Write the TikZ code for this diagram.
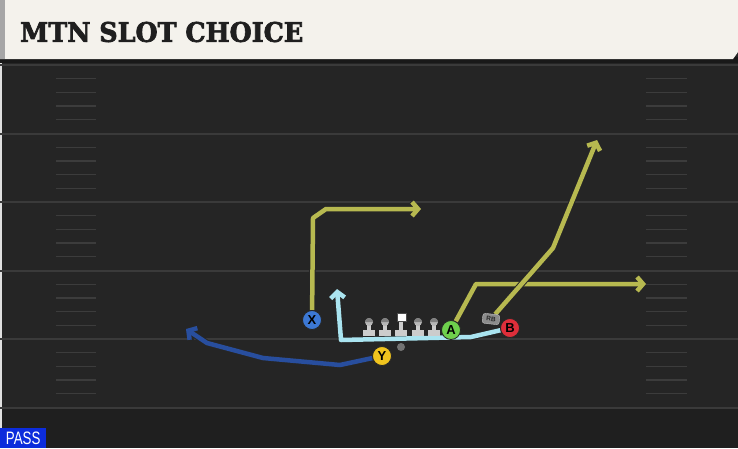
\documentclass[tikz,border=0pt]{standalone}
\usepackage{fontspec}
\newfontfamily\titlefont[FakeBold=2.5]{DejaVu Serif}
\newfontfamily\labelfont{Liberation Sans}
\usetikzlibrary{arrows.meta}

\definecolor{field}{RGB}{37,37,37}
\definecolor{endzone}{RGB}{31,31,31}
\definecolor{yardline}{RGB}{58,58,58}
\definecolor{hashmark}{RGB}{60,60,60}
\definecolor{header}{RGB}{244,242,236}
\definecolor{olive}{RGB}{183,185,80}
\definecolor{skyline}{RGB}{170,228,240}
\definecolor{navy}{RGB}{40,78,158}
\definecolor{xblue}{RGB}{60,120,212}
\definecolor{ygold}{RGB}{240,196,30}
\definecolor{agreen}{RGB}{110,208,76}
\definecolor{bred}{RGB}{222,46,58}
\definecolor{passblue}{RGB}{12,44,220}

\pgfdeclarelayer{turf}
\pgfdeclarelayer{routes}
\pgfsetlayers{turf,routes,main}

\tikzset{
  player/.style={circle, draw=black!85, line width=0.8pt, minimum size=19pt,
    inner sep=0pt, font=\labelfont\bfseries\fontsize{13}{13}\selectfont},
  route/.style={line width=4.5pt, line join=round,
    preaction={draw=black!85, line width=6.5pt},
    arrows={-Straight Barb[length=6pt, width=14pt]}},
  lineman/.style={fill=black!20},
}

\begin{document}
\begin{tikzpicture}[x=1pt, y=-1pt]
\useasboundingbox (0,0) rectangle (738,448);

\begin{pgfonlayer}{turf}
\fill[field] (0,0) rectangle (738,408);
\fill[endzone] (0,408) rectangle (738,448);
\fill[black!12] (0,62) rectangle (2,448);
\foreach \yd in {65,133.5,202,270.5,339,407.5}
  \draw[yardline, line width=2pt] (0,\yd) -- (738,\yd);
\foreach \yd in {65,133.5,202,270.5,339}
  \foreach \k in {1,2,3,4} {
    \draw[hashmark, line width=1.3pt] (56,\yd+13.7*\k) -- (96,\yd+13.7*\k);
    \draw[hashmark, line width=1.3pt] (646,\yd+13.7*\k) -- (687,\yd+13.7*\k);
  }
\fill[black!90] (0,57) rectangle (738,63);
\fill[header] (0,0) -- (738,0) -- (738,52) -- (733,59) -- (0,59) -- cycle;
\fill[black!35] (0,0) rectangle (5,59);
\end{pgfonlayer}

\node[anchor=west, text=black!88, inner sep=0pt, font=\titlefont\bfseries]
  (title) at (20,32) {\resizebox{283pt}{20pt}{MTN SLOT CHOICE}};

\node[player, fill=xblue] (X) at (312,320) {X};
\node[player, fill=ygold] (Y) at (382,356) {Y};
\node[player, fill=agreen] (A) at (451,330) {A};
\node[player, fill=bred] (B) at (510,328) {B};
\node[rounded corners=2.5pt, fill=black!45, draw=black!25, rotate=-6, minimum width=17pt,
  minimum height=10pt, inner sep=0pt, text=black!85,
  font=\labelfont\bfseries\fontsize{6.5}{6.5}\selectfont] (RB) at (491,319) {RB};
\node[circle, fill=black!55, minimum size=8pt, inner sep=0pt] (QB) at (401,347) {};

\foreach \lx in {369,385,418,434} {
  \fill[lineman] (\lx-6,330) rectangle (\lx+6,335.5);
  \fill[lineman] (\lx-2,323) rectangle (\lx+2,331);
  \fill[black!28] (\lx,322) circle (4pt);
  \fill[black!50] (\lx-4,322) arc (180:0:4pt) -- cycle;
}
\fill[lineman] (401-6,330) rectangle (401+6,335.5);
\fill[lineman] (401-2,320) rectangle (401+2,331);
\fill[white, draw=black!70, line width=0.5pt] (397,313) rectangle (406,321);

\coordinate (xtip) at (421,209);
\coordinate (atip) at (646,284);
\coordinate (rbtip) at (597,140);
\coordinate (btip) at (337,289);
\coordinate (ytip) at (186,329);

\begin{pgfonlayer}{routes}
\draw[route, draw=olive] (X) -- (313,218) -- (326,209) -- (xtip);
\draw[route, draw=olive] (A) -- (476,284) -- (atip);
\draw[route, draw=olive] (RB) -- (553,248) -- (rbtip);
\draw[route, draw=skyline] (B) -- (471,337) -- (341,340) -- (btip);
\draw[route, draw=navy] (Y) -- (340,365) -- (263,358) -- (207,343) -- (ytip);
\end{pgfonlayer}

\node[fill=passblue, text=white, anchor=south west, minimum width=46pt, minimum height=20pt,
  inner sep=0pt, font=\labelfont\fontsize{18}{18}\selectfont] (pass) at (0,448)
  {\scalebox{0.74}[1]{PASS}};
\end{tikzpicture}
\end{document}
